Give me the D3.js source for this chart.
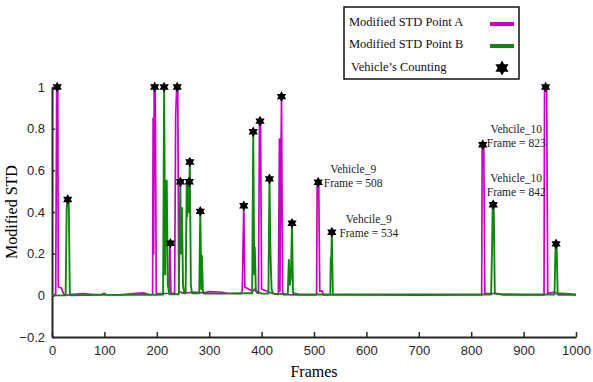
<!DOCTYPE html>
<html>
<head>
<meta charset="utf-8">
<script src="https://cdn.jsdelivr.net/npm/d3@7"></script>
<style>
  body { margin: 0; background: #fff; }
  svg { display: block; }
</style>
</head>
<body>
<div id="chart"></div>
<script>
// frame / value key points
const pointA = [
  [0, 0], [7, 0.005], [9, 1], [11, 1], [12, 0.04], [18, 0.035], [20, 0.02], [23, 0.005], [27, 0],
  [40, 0.005], [60, 0.008], [80, 0.004], [95, 0.005], [100, 0.01], [103, 0.003], [130, 0.002],
  [160, 0.01], [175, 0.012], [185, 0.004], [192, 0.005], [193, 0.85], [194, 0.2], [195, 1], [197, 1], [199, 0.01],
  [210, 0.008], [223, 0.01], [225, 0.25], [227, 0.01], [234, 0.01], [236, 0.86], [238, 1], [240, 1], [242, 0.02],
  [250, 0.01], [270, 0.015], [290, 0.012], [300, 0.018], [320, 0.016], [335, 0.01], [360, 0.008],
  [363, 0.02], [366, 0.43], [368, 0.04], [375, 0.03], [383, 0.02], [387, 0.03], [392, 0.01],
  [394, 0.01], [396, 0.836], [398, 0.836], [400, 0.03], [410, 0.02], [420, 0.01], [430, 0.005],
  [432, 0.005], [434, 0.75], [435, 0.02], [436, 0.4], [438, 0.954], [440, 0.02], [442, 0.003],
  [470, 0.002], [500, 0.002], [505, 0.003], [506, 0.54], [509, 0.54], [511, 0.02], [516, 0.02], [518, 0.002],
  [560, 0.002], [600, 0.002], [700, 0.001], [800, 0.002], [820, 0.002], [821, 0.72], [824, 0.72], [826, 0.01],
  [850, 0.008], [860, 0.002], [939, 0.002], [940, 1], [944, 1], [946, 0.01], [960, 0.015], [966, 0.002], [1000, 0.002]
];

const pointB = [
  [0, 0], [26, 0], [28, 0.42], [30, 0.46], [32, 0.44], [34, 0.01], [36, 0],
  [100, 0.002], [200, 0.003], [212, 0.004], [214, 1], [216, 0.1], [217, 0.55], [219, 0.55], [221, 0.05], [224, 0.005],
  [242, 0.005], [244, 0.4], [245, 0.545], [246, 0.2], [248, 0.42], [250, 0.05], [252, 0.01],
  [255, 0.01], [257, 0.53], [258, 0.38], [260, 0.545], [261, 0.4], [263, 0.64], [265, 0.05], [267, 0.01],
  [281, 0.01], [283, 0.403], [285, 0.03], [286, 0.19], [288, 0.02], [290, 0.008],
  [330, 0.008], [370, 0.01], [382, 0.01], [384, 0.785], [386, 0.1], [387, 0.23], [389, 0.02], [400, 0.008],
  [413, 0.008], [415, 0.559], [417, 0.2], [419, 0.03], [422, 0.008], [450, 0.006], [452, 0.17], [454, 0.05],
  [456, 0.09], [458, 0.346], [460, 0.01], [470, 0.005], [500, 0.004], [531, 0.004], [532, 0.18], [533, 0.17],
  [534, 0.303], [536, 0.005], [600, 0.004], [700, 0.004], [800, 0.004], [838, 0.004], [840, 0.25],
  [841, 0.435], [843, 0.43], [845, 0.01], [850, 0.006], [900, 0.004], [959, 0.004], [961, 0.247],
  [963, 0.247], [965, 0.01], [1000, 0.004]
];

const counting = [
  [10, 1], [30, 0.46], [196, 1], [214, 1], [226, 0.25], [239, 1], [245, 0.545], [262, 0.545],
  [263, 0.64], [283, 0.403], [366, 0.43], [384, 0.785], [397, 0.836], [415, 0.559], [438, 0.954],
  [458, 0.346], [508, 0.543], [534, 0.303], [822, 0.723], [842, 0.435], [942, 1], [962, 0.247]
];

const notes = [
  { frame: 508, value: 0.543, lines: ['Vehicle_9', 'Frame = 508'], dx: 35, dy: -9 },
  { frame: 534, value: 0.303, lines: ['Vehcile_9', 'Frame = 534'], dx: 37, dy: -9 },
  { frame: 823, value: 0.723, lines: ['Vehcile_10', 'Frame = 823'], dx: 33, dy: -12 },
  { frame: 842, value: 0.435, lines: ['Vehicle_10', 'Frame = 842'], dx: 23, dy: -23 }
];

const xTicks = [0, 100, 200, 300, 400, 500, 600, 700, 800, 900, 1000];
const yTicks = [-0.2, 0, 0.2, 0.4, 0.6, 0.8, 1];

const width = 593, height = 382;
const magenta = '#c800c8', green = '#0c880c', axisColor = '#262626';

const svg = d3.select('#chart').append('svg')
  .attr('width', width)
  .attr('height', height);

const x = d3.scaleLinear().domain([0, 1000]).range([52, 576]);
const y = d3.scaleLinear().domain([-0.2, 1]).range([337, 87]);

// hexagram marker
const hexStar = {
  draw(ctx, size) {
    const r = Math.sqrt(size) * 0.62;
    for (let k = 0; k < 2; k++) {
      const a0 = k === 0 ? -Math.PI / 2 : Math.PI / 2;
      for (let i = 0; i < 3; i++) {
        const a = a0 + i * 2 * Math.PI / 3;
        const px = r * Math.cos(a), py = r * Math.sin(a);
        if (i === 0) ctx.moveTo(px, py); else ctx.lineTo(px, py);
      }
      ctx.closePath();
    }
  }
};

// axes
const xAxis = svg.append('g')
  .attr('transform', `translate(0,${y(-0.2)})`)
  .call(d3.axisBottom(x).tickValues(xTicks).tickSizeInner(-5).tickSizeOuter(0).tickPadding(9).tickFormat(d3.format('d')));
xAxis.select('.domain').attr('stroke', axisColor).attr('stroke-width', 2);
xAxis.selectAll('.tick line').attr('stroke', axisColor).attr('stroke-width', 1.5);
xAxis.selectAll('text').attr('font-family', 'Liberation Sans, Arial, sans-serif').attr('font-size', 13).attr('fill', '#262626');

const yAxis = svg.append('g')
  .attr('transform', `translate(${x(0)},0)`)
  .call(d3.axisLeft(y).tickValues(yTicks).tickSizeInner(-3).tickSizeOuter(0).tickPadding(7).tickFormat(d => d3.format('')(+d.toFixed(1))));
yAxis.select('.domain').attr('stroke', axisColor).attr('stroke-width', 2);
yAxis.selectAll('.tick line').attr('stroke', axisColor).attr('stroke-width', 1.5);
yAxis.selectAll('text').attr('font-family', 'Liberation Sans, Arial, sans-serif').attr('font-size', 13).attr('fill', '#262626');

// series
const line = d3.line().x(d => x(d[0])).y(d => y(d[1]));

svg.append('path')
  .attr('d', line(pointA))
  .attr('fill', 'none')
  .attr('stroke', magenta)
  .attr('stroke-width', 1.7)
  .attr('stroke-linejoin', 'round');

svg.append('path')
  .attr('d', line(pointB))
  .attr('fill', 'none')
  .attr('stroke', green)
  .attr('stroke-width', 1.9)
  .attr('stroke-linejoin', 'round');

// vehicle counting stars
svg.selectAll('.star')
  .data(counting)
  .enter()
  .append('path')
  .attr('class', 'star')
  .attr('transform', d => `translate(${x(d[0])},${y(d[1])})`)
  .attr('d', d3.symbol().type(hexStar).size(75))
  .attr('fill', '#000');

// annotations
notes.forEach(n => {
  const t = svg.append('text')
    .attr('x', x(n.frame) + n.dx)
    .attr('y', y(n.value) + n.dy)
    .attr('text-anchor', 'middle')
    .attr('font-family', 'Liberation Serif, Times New Roman, serif')
    .attr('font-size', 11.5)
    .attr('fill', '#222');
  n.lines.forEach((s, i) => {
    t.append('tspan').attr('x', x(n.frame) + n.dx).attr('dy', i === 0 ? 0 : 14).text(s);
  });
});

// axis titles
svg.append('text')
  .attr('x', x(500))
  .attr('y', 377)
  .attr('text-anchor', 'middle')
  .attr('font-family', 'Liberation Serif, Times New Roman, serif')
  .attr('font-size', 16)
  .text('Frames');

svg.append('text')
  .attr('transform', `translate(17,${y(0.4)}) rotate(-90)`)
  .attr('text-anchor', 'middle')
  .attr('font-family', 'Liberation Serif, Times New Roman, serif')
  .attr('font-size', 16)
  .text('Modified STD');

// legend
const legend = svg.append('g').attr('transform', 'translate(344,7)');
legend.append('rect')
  .attr('width', 175).attr('height', 72)
  .attr('fill', '#fff').attr('stroke', '#111').attr('stroke-width', 1.5);

const legendItems = [
  { label: 'Modified STD Point A', color: magenta },
  { label: 'Modified STD Point B', color: green },
  { label: 'Vehicle\u2019s Counting', color: null }
];
legendItems.forEach((item, i) => {
  const cy = 15 + i * 22;
  legend.append('text')
    .attr('x', item.color ? 5 : 7)
    .attr('y', cy + 4 + (i === 2 ? 1 : 0))
    .attr('font-family', 'Liberation Serif, Times New Roman, serif')
    .attr('font-size', 12.5)
    .attr('fill', '#111')
    .text(item.label);
  if (item.color) {
    legend.append('line')
      .attr('x1', 146).attr('x2', 170)
      .attr('y1', cy + 2).attr('y2', cy + 2)
      .attr('stroke', item.color).attr('stroke-width', 4);
  } else {
    legend.append('path')
      .attr('transform', `translate(158,${cy + 2})`)
      .attr('d', d3.symbol().type(hexStar).size(150))
      .attr('fill', '#000');
  }
});
</script>
</body>
</html>
